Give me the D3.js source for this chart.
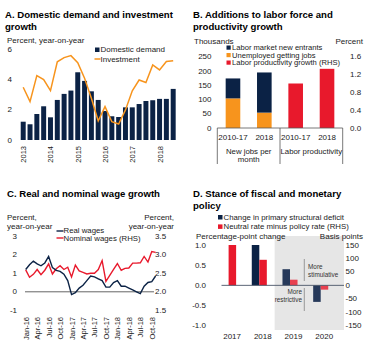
<!DOCTYPE html>
<html><head><meta charset="utf-8">
<script src="https://cdn.jsdelivr.net/npm/d3@7"></script>
<style>
html,body{margin:0;padding:0;background:#fff;}
svg{display:block;font-family:"Liberation Sans",Arial,sans-serif;}
</style></head>
<body><svg id="c" width="380" height="349"></svg>
<script>
// ---------- DATA ----------
// Panel A
const quartersA = ["2013Q1","2013Q2","2013Q3","2013Q4","2014Q1","2014Q2","2014Q3","2014Q4","2015Q1","2015Q2","2015Q3","2015Q4","2016Q1","2016Q2","2016Q3","2016Q4","2017Q1","2017Q2","2017Q3","2017Q4","2018Q1","2018Q2","2018Q3"];
const domesticDemand = [1.21,1.04,1.72,2.23,1.50,2.65,3.05,3.27,4.48,3.91,3.22,2.65,1.92,1.57,1.52,2.16,2.16,2.38,2.58,2.63,2.72,2.72,3.38];
const investment = [3.49,2.54,4.26,4.00,3.27,5.17,5.45,5.58,5.12,4.08,2.76,1.26,2.21,1.21,1.06,1.99,3.25,3.97,3.80,4.97,4.64,5.19,5.25];
const yearTicksA = ["2013","2014","2015","2016","2017","2018"];
const yTicksA = [0,2,4,6];

// Panel B
const categoriesB = ["2010-17","2018","2010-17 ","2018 "];
const newEntrants = [70,141];
const unemployedGettingJobs = [104,54];
const productivityGrowth = [1.0,1.33];
const groupsB = [["New jobs per","month"],["Labor productivity"]];
const yTicksBLeft = [0,50,100,150,200,250];
const yTicksBRight = [0,0.4,0.8,1.2,1.6];

// Panel C
const monthsC = ["Jan-16","Feb-16","Mar-16","Apr-16","May-16","Jun-16","Jul-16","Aug-16","Sep-16","Oct-16","Nov-16","Dec-16",
"Jan-17","Feb-17","Mar-17","Apr-17","May-17","Jun-17","Jul-17","Aug-17","Sep-17","Oct-17","Nov-17","Dec-17",
"Jan-18","Feb-18","Mar-18","Apr-18","May-18","Jun-18","Jul-18","Aug-18","Sep-18","Oct-18","Nov-18"];
const realWages = [1.2,1.45,1.65,1.5,1.4,1.55,1.9,1.3,1.15,1.1,0.95,0.6,
-0.15,-0.05,0.2,0.35,0.6,0.85,0.8,0.7,0.6,0.25,0.25,0.5,
0.6,0.3,0.3,0.2,0.1,0.0,-0.1,0.3,0.5,0.55,0.85];
const nominalWages = [2.59,2.39,2.47,2.6,2.46,2.58,2.75,2.48,2.62,2.7,2.6,2.66,
2.4,2.72,2.56,2.52,2.48,2.5,2.5,2.6,2.84,2.28,2.44,2.6,
2.76,2.58,2.63,2.64,2.77,2.77,2.78,2.95,2.8,3.08,3.06];
const yTicksCLeft = [-1,0,1,2,3];
const yTicksCRight = [1.5,2.0,2.5,3.0,3.5];

// Panel D
const yearsD = ["2017","2018","2019","2020"];
const deficitChange = [null,1.0,0.4,-0.41];
const rateGap = [150,95,21,-16];
const yTicksDLeft = [-1.0,-0.5,0.0,0.5,1.0];
const yTicksDRight = [-150,-100,-50,0,50,100,150];

// ---------- STYLE ----------
const NAVY="#0b2245", ORANGE="#f7941d", RED="#e8192c", TXT="#1a1a1a";
const NAVY_F="#26395a", RED_F="#e8404f";
const svg = d3.select("#c");

function title(x,y,lines){
  lines.forEach((t,i)=>svg.append("text").attr("x",x).attr("y",y+i*12).attr("font-size",9.6).attr("font-weight","bold").attr("fill","#000").text(t));
}
function txt(x,y,t,opt={}){
  return svg.append("text").attr("x",x).attr("y",y).attr("font-size",opt.size||8).attr("fill",opt.fill||TXT)
    .attr("text-anchor",opt.anchor||"start").attr("dominant-baseline","central").text(t);
}

// ---------- PANEL A ----------
title(5,17.5,["A. Domestic demand and investment","growth"]);
txt(7,40,"Percent, year-on-year");
const xA = d3.scaleBand().domain(quartersA).range([19.8,176.6]).paddingInner(0.27).paddingOuter(0.135);
const yA = d3.scaleLinear().domain([0,6]).range([140,49.3]);
yTicksA.forEach(v=>txt(12,yA(v),v,{anchor:"end"}));
svg.append("g").selectAll("rect").data(domesticDemand).join("rect")
  .attr("x",(d,i)=>xA(quartersA[i])).attr("width",xA.bandwidth())
  .attr("y",d=>yA(d)).attr("height",d=>yA(0)-yA(d)).attr("fill",NAVY);
svg.append("path").datum(investment)
  .attr("d",d3.line().x((d,i)=>xA(quartersA[i])+xA.bandwidth()/2).y(d=>yA(d)))
  .attr("fill","none").attr("stroke",ORANGE).attr("stroke-width",1.5);
yearTicksA.forEach(y=>{
  const q = y+"Q1";
  const cx = xA(q)+xA.bandwidth()/2;
  svg.append("text").attr("transform",`translate(${cx+0.5},146) rotate(-90)`)
    .attr("text-anchor","end").attr("dominant-baseline","central").attr("font-size",7.5).attr("fill",TXT).text(y);
});
svg.append("rect").attr("x",95).attr("y",47.5).attr("width",4.5).attr("height",4.5).attr("fill",NAVY);
txt(100.5,49.6,"Domestic demand");
svg.append("line").attr("x1",94.5).attr("x2",100.5).attr("y1",59).attr("y2",59).attr("stroke",ORANGE).attr("stroke-width",1.5);
txt(100.5,59,"Investment");

// ---------- PANEL B ----------
title(193,17.5,["B. Additions to labor force and","productivity growth"]);
txt(194,41.5,"Thousands");
txt(363,41.5,"Percent",{anchor:"end"});
const xB = d3.scaleBand().domain(categoriesB).range([217.3,342.7]).paddingInner(0.534).paddingOuter(0.267);
const yBL = d3.scaleLinear().domain([0,250]).range([128,56.8]);
const yBR = d3.scaleLinear().domain([0,1.6]).range([128,56.8]);
yTicksBLeft.forEach(v=>txt(211.5,yBL(v),v,{anchor:"end"}));
yTicksBRight.forEach(v=>txt(350,yBR(v),v.toFixed(1)));
// stacked
newEntrants.forEach((v,i)=>{
  const c = categoriesB[i];
  const u = unemployedGettingJobs[i];
  svg.append("rect").attr("x",xB(c)).attr("width",xB.bandwidth()).attr("y",yBL(u)).attr("height",yBL(0)-yBL(u)).attr("fill",ORANGE);
  svg.append("rect").attr("x",xB(c)).attr("width",xB.bandwidth()).attr("y",yBL(u+v)).attr("height",yBL(u)-yBL(u+v)).attr("fill",NAVY);
});
productivityGrowth.forEach((v,i)=>{
  const c = categoriesB[i+2];
  svg.append("rect").attr("x",xB(c)).attr("width",xB.bandwidth()).attr("y",yBR(v)).attr("height",yBR(0)-yBR(v)).attr("fill",RED);
});
svg.append("line").attr("x1",217.3).attr("x2",342.7).attr("y1",yBL(0)).attr("y2",yBL(0)).attr("stroke","#555").attr("stroke-width",0.8);
[217.3,280,342.7].forEach(x=>svg.append("line").attr("x1",x).attr("x2",x).attr("y1",128).attr("y2",164).attr("stroke","#555").attr("stroke-width",0.8));
categoriesB.forEach(c=>txt(xB(c)+xB.bandwidth()/2,137,c.trim(),{anchor:"middle"}));
groupsB.forEach((g,gi)=>{
  const cx = gi===0 ? 248.7 : 311.3;
  g.forEach((t,li)=>txt(cx,151+li*8.8,t,{anchor:"middle",size:7.8}));
});
const legB = [["Labor market new entrants",NAVY],["Unemployed getting jobs",ORANGE],["Labor productivity growth (RHS)",RED]];
legB.forEach((l,i)=>{
  const y = 47.7+i*7.5;
  svg.append("rect").attr("x",226.5).attr("y",y-2.2).attr("width",4.2).attr("height",4.2).attr("fill",l[1]);
  txt(232,y,l[0],{size:7.6});
});

// ---------- PANEL C ----------
title(7,196.5,["C. Real and nominal wage growth"]);
txt(7,217,"Percent,");
txt(7,226.5,"year-on-year");
txt(174,217,"Percent,",{anchor:"end"});
txt(174,226.5,"year-on-year",{anchor:"end"});
const xC = d3.scaleLinear().domain([0,monthsC.length-1]).range([25.7,155.6]);
const yCL = d3.scaleLinear().domain([-1,3]).range([310.4,236]);
const yCR = d3.scaleLinear().domain([1.5,3.5]).range([310.4,236]);
yTicksCLeft.forEach(v=>txt(17,yCL(v),v,{anchor:"end"}));
yTicksCRight.forEach(v=>txt(155,yCR(v),v.toFixed(1)));
svg.append("line").attr("x1",25).attr("x2",154).attr("y1",yCL(0)).attr("y2",yCL(0)).attr("stroke","#555").attr("stroke-width",0.9);
svg.append("path").datum(nominalWages).attr("d",d3.line().x((d,i)=>xC(i)).y(d=>yCR(d)))
  .attr("fill","none").attr("stroke",RED).attr("stroke-width",1.4);
svg.append("path").datum(realWages).attr("d",d3.line().x((d,i)=>xC(i)).y(d=>yCL(d)))
  .attr("fill","none").attr("stroke",NAVY).attr("stroke-width",1.4);
monthsC.forEach((m,i)=>{
  if(i%3!==0) return;
  svg.append("text").attr("transform",`translate(${xC(i)+0.5},317) rotate(-90)`)
    .attr("text-anchor","end").attr("dominant-baseline","central").attr("font-size",7.5).attr("fill",TXT).text(m);
});
svg.append("line").attr("x1",56.5).attr("x2",63.5).attr("y1",231).attr("y2",231).attr("stroke",NAVY).attr("stroke-width",1.4);
txt(63.5,230.8,"Real wages",{size:7.8});
svg.append("line").attr("x1",56.5).attr("x2",63.5).attr("y1",238).attr("y2",238).attr("stroke",RED).attr("stroke-width",1.4);
txt(63.5,238.3,"Nominal wages (RHS)",{size:7.8});

// ---------- PANEL D ----------
title(193,196.5,["D. Stance of fiscal and monetary","policy"]);
const xD = d3.scaleBand().domain(yearsD).range([213.25,336.05]).paddingInner(0.51).paddingOuter(0.255);
const xDs = d3.scaleBand().domain(["def","rate"]).range([0,xD.bandwidth()]);
const yDL = d3.scaleLinear().domain([-1,1]).range([325.7,245]);
const yDR = d3.scaleLinear().domain([-150,150]).range([325.7,245]);
const shadeX = (xD("2018")+xD.bandwidth()+xD("2019"))/2;
svg.append("rect").attr("x",shadeX).attr("y",236).attr("width",344-shadeX).attr("height",94).attr("fill","#e6e6e6");
yTicksDLeft.forEach(v=>txt(206,yDL(v),v.toFixed(1),{anchor:"end"}));
yTicksDRight.forEach(v=>txt(345.5,yDR(v),v));
txt(196,236,"Percentage-point change");
txt(363,236,"Basis points",{anchor:"end"});
deficitChange.forEach((v,i)=>{
  if(v===null) return;
  const y = yearsD[i];
  svg.append("rect").attr("x",xD(y)+xDs("def")).attr("width",xDs.bandwidth())
    .attr("y",yDL(Math.max(0,v))).attr("height",Math.abs(yDL(v)-yDL(0))).attr("fill",i>=2?NAVY_F:NAVY);
});
rateGap.forEach((v,i)=>{
  const y = yearsD[i];
  svg.append("rect").attr("x",xD(y)+xDs("rate")).attr("width",xDs.bandwidth())
    .attr("y",yDR(Math.max(0,v))).attr("height",Math.abs(yDR(v)-yDR(0))).attr("fill",i>=2?RED_F:RED);
});
svg.append("line").attr("x1",221.5).attr("x2",344).attr("y1",yDL(0)).attr("y2",yDL(0)).attr("stroke","#4a5568").attr("stroke-width",0.9);
yearsD.forEach(y=>txt(xD(y)+xD.bandwidth()/2+3.5,336,y,{anchor:"middle"}));
// annotations
svg.append("line").attr("x1",304.3).attr("x2",304.3).attr("y1",259).attr("y2",281).attr("stroke","#777").attr("stroke-width",0.7);
svg.append("line").attr("x1",304.3).attr("x2",304.3).attr("y1",288).attr("y2",311).attr("stroke","#777").attr("stroke-width",0.7);
txt(308,266.7,"More",{size:6.4,fill:"#333"});
txt(308,274,"stimulative",{size:6.4,fill:"#333"});
txt(302,291.5,"More",{size:6.4,fill:"#333",anchor:"end"});
txt(302,299,"restrictive",{size:6.4,fill:"#333",anchor:"end"});
// legend
const legD = [["Change in primary structural deficit",NAVY],["Neutral rate minus policy rate (RHS)",RED]];
legD.forEach((l,i)=>{
  const y = 217.3+i*9.4;
  svg.append("rect").attr("x",218).attr("y",y-2.3).attr("width",4.5).attr("height",4.5).attr("fill",l[1]);
  txt(223.5,y,l[0],{size:7.8});
});
</script></body></html>
